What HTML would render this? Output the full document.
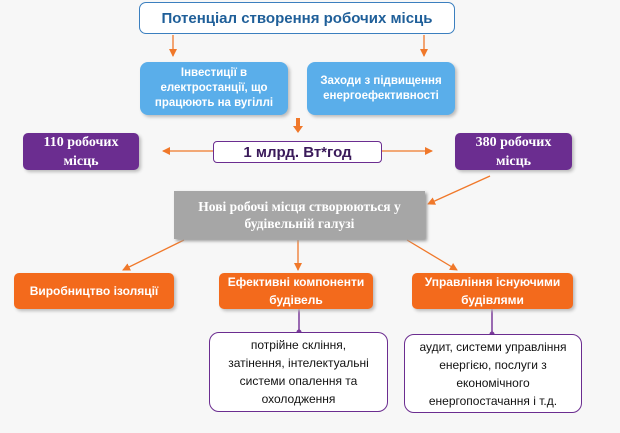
<!DOCTYPE html>
<html><head><meta charset="utf-8"><style>
body{margin:0;width:620px;height:433px;background:#f7f7f7;position:relative;overflow:hidden;font-family:"Liberation Sans",sans-serif}
.b{position:absolute;box-sizing:border-box;display:flex;align-items:center;justify-content:center;text-align:center;font-weight:bold}
.blue{background:#5aaeea;color:#fff;border-radius:8px;font-size:11.5px;line-height:15px;box-shadow:2px 2px 3px #bbb}
.pur{background:#6b2d90;color:#fff;border-radius:5px;font-family:"Liberation Serif",serif;font-size:14px;line-height:19px;box-shadow:2px 2px 3px #bbb}
.org{background:#f36a1c;color:#fff;border-radius:5px;font-size:12px;line-height:18px;box-shadow:2px 2px 3px #bbb}
.wh{background:#fff;border:1.5px solid #6b2d90;border-radius:10px;font-weight:normal;color:#111;font-size:12px;line-height:18px}
svg{position:absolute;left:0;top:0}
</style></head><body>
<svg width="620" height="433">
<defs><marker id="a" markerWidth="8" markerHeight="8" refX="7" refY="4" orient="auto" markerUnits="userSpaceOnUse"><path d="M0,0 L8,4 L0,8 z" fill="#f0782a"/></marker></defs>
<g stroke="#f0782a" stroke-width="1.3" fill="none" marker-end="url(#a)">
<line x1="173" y1="35" x2="173" y2="56"/>
<line x1="424" y1="35" x2="424" y2="56"/>
<line x1="213" y1="151" x2="163" y2="151"/>
<line x1="382" y1="151" x2="432" y2="151"/>
<line x1="490" y1="176" x2="428" y2="204"/>
<line x1="184" y1="240" x2="123" y2="270"/>
<line x1="298" y1="240" x2="298" y2="270"/>
<line x1="407" y1="240" x2="457" y2="270"/>
</g>
<path d="M296,118 h4 v8 h3 l-5,7 l-5,-7 h3 z" fill="#f0782a"/>
<line x1="299" y1="309" x2="299" y2="332" stroke="#7a3a9a" stroke-width="1.5"/>
<line x1="492" y1="309" x2="492" y2="334" stroke="#7a3a9a" stroke-width="1.5"/>
<circle cx="299" cy="332" r="2.5" fill="#7a3a9a"/><circle cx="492" cy="334" r="2.5" fill="#7a3a9a"/>
</svg>
<div class="b" style="left:139px;top:2px;width:316px;height:32px;background:#fff;border:1.5px solid #3b7fbf;border-radius:7px;color:#1f5f99;font-size:15px">Потенціал створення робочих місць</div>
<div class="b blue" style="left:140px;top:62px;width:148px;height:53px">Інвестиції в<br>електростанції, що<br>працюють на вугіллі</div>
<div class="b blue" style="left:307px;top:62px;width:148px;height:53px">Заходи з підвищення<br>енергоефективності</div>
<div class="b pur" style="left:23px;top:133px;width:116px;height:37px">110 робочих<br>місць</div>
<div class="b pur" style="left:455px;top:133px;width:117px;height:37px">380 робочих<br>місць</div>
<div class="b" style="left:213px;top:141px;width:169px;height:22px;background:#fff;border:1.5px solid #6b2d90;border-radius:4px;color:#3a1a5a;font-size:15px">1 млрд. Вт*год</div>
<div class="b" style="left:174px;top:191px;width:251px;height:48px;background:#a6a6a6;color:#fff;font-family:'Liberation Serif',serif;font-size:13.5px;line-height:17px;box-shadow:2px 2px 3px #999">Нові робочі місця створюються у<br>будівельній галузі</div>
<div class="b org" style="left:14px;top:273px;width:160px;height:36px">Виробництво ізоляції</div>
<div class="b org" style="left:219px;top:273px;width:154px;height:36px">Ефективні компоненти<br>будівель</div>
<div class="b org" style="left:412px;top:273px;width:161px;height:36px">Управління існуючими<br>будівлями</div>
<div class="b wh" style="left:209px;top:332px;width:179px;height:80px">потрійне скління,<br>затінення, інтелектуальні<br>системи опалення та<br>охолодження</div>
<div class="b wh" style="left:404px;top:334px;width:178px;height:79px">аудит, системи управління<br>енергією, послуги з<br>економічного<br>енергопостачання і т.д.</div>
</body></html>
